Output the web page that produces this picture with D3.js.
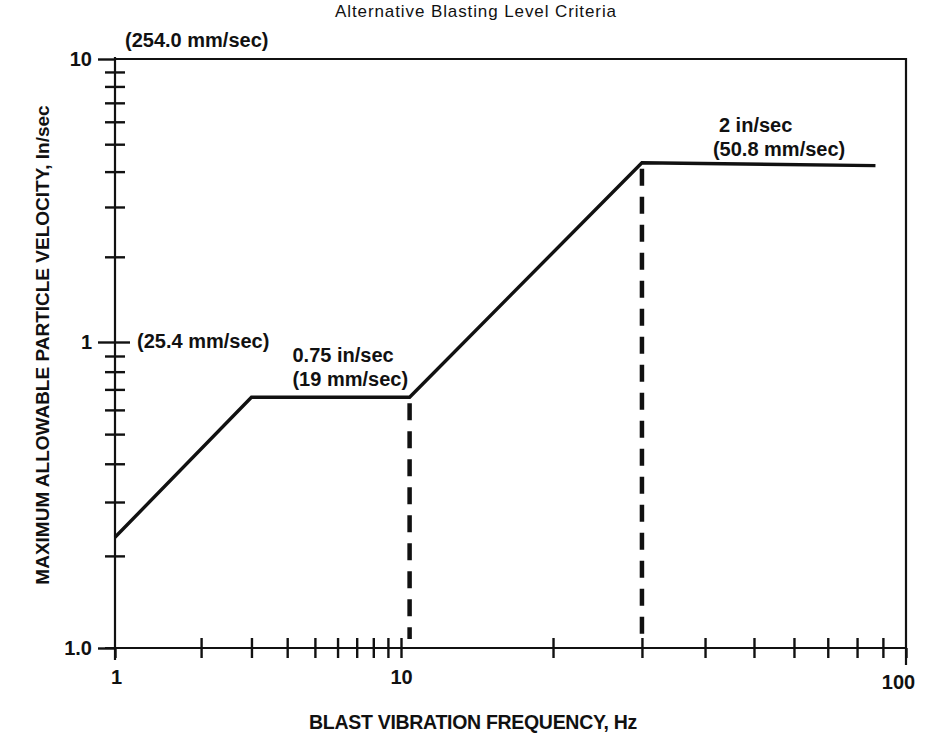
<!DOCTYPE html>
<html>
<head>
<meta charset="utf-8">
<script src="https://cdn.jsdelivr.net/npm/d3@7"></script>
<style>
  body { margin: 0; background: #fff; }
  text { font-family: "Liberation Sans", Arial, sans-serif; fill: #111; }
  .bold { font-weight: bold; }
</style>
</head>
<body>
<div id="chart"></div>
<script>
// curve (frequency in Hz, velocity in in/sec)
const freq = [1, 3, 10.4, 30, 87];
const ppv = [0.23, 0.66, 0.66, 4.3, 4.2];

// dashed drop lines at the break points
const dropFreq = [10.4, 30];
const dropPpv = [0.66, 4.3];

// axis ticks
const xMajor = [1, 10, 100];
const xMajorLabels = ["1", "10", "100"];
const xMinor = [2, 3, 4, 5, 6, 7, 8, 9, 20, 30, 40, 50, 60, 70, 80, 90];
const yMajor = [0.1, 1, 10];
const yMajorLabels = ["1.0", "1", "10"];
const yMinor = [0.2, 0.3, 0.4, 0.5, 0.6, 0.7, 0.8, 0.9, 2, 3, 4, 5, 6, 7, 8, 9];

const title = "Alternative Blasting Level Criteria";
const xTitle = "BLAST VIBRATION FREQUENCY, Hz";
const yTitle = "MAXIMUM ALLOWABLE PARTICLE VELOCITY, In/sec";
const notes = ["(254.0 mm/sec)", "(25.4 mm/sec)", "0.75 in/sec", "(19 mm/sec)", "2 in/sec", "(50.8 mm/sec)"];

let width = 936;
let height = 742;

let svg = d3.select('#chart').append('svg')
  .attr('width', width)
  .attr('height', height);

// the drawing's decades are not the same length, so piecewise log scales
let x = d3.scaleLog().domain([1, 10, 100]).range([115, 401, 906]);
let y = d3.scaleLog().domain([0.1, 1, 10]).range([648, 342, 59]);

let x0 = x(1), x1 = x(100), y0 = y(0.1), y1 = y(10);

// frame: top and right
svg.append('path')
  .attr('d', d3.line()([[x0, y1], [x1, y1], [x1, y0 + 17]]))
  .attr('fill', 'none')
  .attr('stroke', '#111')
  .attr('stroke-width', 2.2);

// y axis
let gy = svg.append('g').attr('transform', `translate(${x0},0)`);
gy.append('line')
  .attr('x1', 0).attr('x2', 0)
  .attr('y1', y1 - 2).attr('y2', y0 + 12)
  .attr('stroke', '#111').attr('stroke-width', 2.2);
gy.append('g').call(d3.axisLeft(y).tickValues(yMinor).tickSize(10).tickFormat(''));
gy.append('g').call(d3.axisRight(y).tickValues(yMinor).tickSize(10).tickFormat(''));
gy.append('g').call(d3.axisRight(y).tickValues([1]).tickSize(15).tickFormat(''));
gy.append('g').call(d3.axisLeft(y).tickValues(yMajor).tickSize(17).tickPadding(6)
  .tickFormat((d, i) => yMajorLabels[i]));

// x axis
let gx = svg.append('g').attr('transform', `translate(0,${y0})`);
gx.append('line')
  .attr('x1', x0 - 10).attr('x2', x1)
  .attr('y1', 0).attr('y2', 0)
  .attr('stroke', '#111').attr('stroke-width', 2.2);
gx.append('g').call(d3.axisBottom(x).tickValues(xMinor).tickSize(10).tickFormat(''));
gx.append('g').call(d3.axisTop(x).tickValues(xMinor.concat([10])).tickSize(10).tickFormat(''));
gx.append('g').call(d3.axisBottom(x).tickValues(xMajor).tickSize(10).tickPadding(12)
  .tickFormat((d, i) => xMajorLabels[i]));

svg.selectAll('.domain').remove();
svg.selectAll('g').attr('font-size', null).attr('font-family', null);
svg.selectAll('.tick line').attr('stroke', '#111').attr('stroke-width', 2.4);
svg.selectAll('.tick text')
  .attr('class', 'bold')
  .style('font-size', '20px')
  .attr('fill', '#111');
gx.selectAll('.tick text').filter(d => d === 100).attr('dx', -8).attr('dy', '0.95em');
gx.selectAll('.tick text').filter(d => d === 1).attr('dx', 1);

// dashed drop lines
svg.append('g').selectAll('line')
  .data(dropFreq)
  .enter()
  .append('line')
  .attr('x1', d => x(d)).attr('x2', d => x(d))
  .attr('y1', (d, i) => y(dropPpv[i]) + 6)
  .attr('y2', y0 - 9)
  .attr('stroke', '#111')
  .attr('stroke-width', 4.5)
  .attr('stroke-dasharray', '17,11');

// criteria curve
let pts = freq.map((f, i) => [x(f), y(ppv[i])]);
svg.append('path')
  .attr('d', d3.line()(pts))
  .attr('fill', 'none')
  .attr('stroke', '#111')
  .attr('stroke-width', 3.4)
  .attr('stroke-linejoin', 'miter');

// annotations
let note = (txt, px, py) => svg.append('text')
  .attr('class', 'bold')
  .attr('x', px).attr('y', py)
  .style('font-size', '20px')
  .text(txt);
note(notes[0], x0 + 10, y1 - 12);
note(notes[1], x0 + 22, y(1) + 6);
note(notes[2], x(3) + 41, y(0.66) - 35);
note(notes[3], x(3) + 41, y(0.66) - 11);
note(notes[4], x(30) + 77, y(4.3) - 31);
note(notes[5], x(30) + 71, y(4.3) - 7);

// titles
svg.append('text')
  .attr('x', 476).attr('y', 17)
  .attr('text-anchor', 'middle')
  .style('font-size', '17px')
  .style('letter-spacing', '0.9px')
  .text(title);

svg.append('text')
  .attr('class', 'bold')
  .attr('x', 473).attr('y', 729)
  .attr('text-anchor', 'middle')
  .style('font-size', '19.5px')
  .style('letter-spacing', '-0.3px')
  .text(xTitle);

svg.append('text')
  .attr('class', 'bold')
  .attr('transform', 'translate(49,345) rotate(-90)')
  .attr('text-anchor', 'middle')
  .style('font-size', '19px')
  .text(yTitle);
</script>
</body>
</html>
